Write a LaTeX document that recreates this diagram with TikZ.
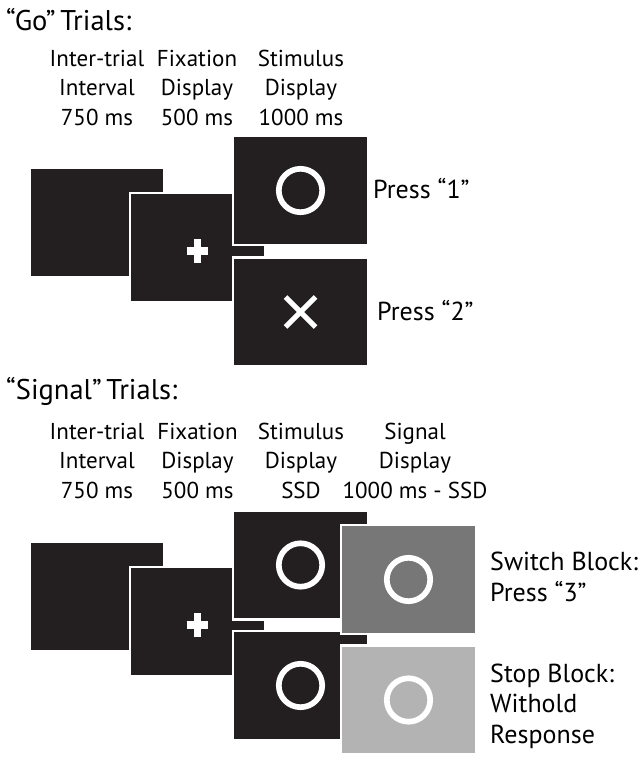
\documentclass[tikz,border=0pt]{standalone}
\usepackage{fontspec}
\setmainfont{PT Sans}
\usetikzlibrary{positioning}

\definecolor{scr}{HTML}{231F20}
\definecolor{switchgray}{HTML}{777777}
\definecolor{stopgray}{HTML}{B3B3B3}

\tikzset{
    screen/.style={rectangle, fill=scr, draw=white, line width=2.5pt,
        minimum width=135pt, minimum height=109pt, inner sep=0pt},
    ring/.style={draw=white, line width=5.7pt},
    glyph/.style={draw=white, line width=5pt},
    head/.style={align=center, anchor=base, inner sep=0pt,
        font=\fontsize{23}{29.5}\selectfont},
    trialtitle/.style={anchor=base west, inner sep=0pt,
        font=\fontsize{28.5}{32}\selectfont},
    resp/.style={align=left, anchor=base west, inner sep=0pt,
        font=\fontsize{26}{30.5}\selectfont}
}

\begin{document}
\begin{tikzpicture}[x=1pt, y=1pt, on grid]
    \useasboundingbox (0,0) rectangle (644,-762);

    % go trials
    \node[trialtitle] (gotitle) at (6,-31) {“Go”\,Trials:};
    \node[head] (goitilab) at (97,-125.5) {Inter-trial\\Interval\\750 ms};
    \node[head] (gofixlab) at (197,-125.5) {Fixation\\Display\\500 ms};
    \node[head] (gostimlab) at (301,-125.5) {Stimulus\\Display\\1000 ms};

    \node[screen] (goiti) at (97,-222.5) {};
    \node[screen] (gofix) [below right=25pt and 100.5pt of goiti] {};
    \node[screen] (gostim) [above right=57pt and 103pt of gofix] {};
    \node[screen] (gostimx) [below=121.5pt of gostim] {};

    \draw[glyph, line width=7.5pt] ([yshift=-3.5pt]gofix.center) +(-10.8,0) -- +(10.8,0)
        +(0,-12.2) -- +(0,12.2);
    \draw[ring] (gostim.center) circle (21.7pt);
    \draw[glyph] (gostimx.center) +(-15,-15) -- +(15,15) +(-15,15) -- +(15,-15);

    \node[resp] (press1) at (373,-198) {Press “1”};
    \node[resp] (press2) at (377,-320) {Press “2”};

    % signal trials
    \node[trialtitle] (sigtitle) at (6,-399) {“Signal”\,Trials:};
    \node[head] (sigitilab) at (97,-498) {Inter-trial\\Interval\\750 ms};
    \node[head] (sigfixlab) at (197.5,-498) {Fixation\\Display\\500 ms};
    \node[head] (sigstimlab) at (301,-498) {Stimulus\\Display\\SSD};
    \node[head] (signallab) at (415,-498) {Signal\\Display\\1000 ms - SSD};

    \node[screen] (sigiti) at (97,-596.5) {};
    \node[screen] (sigfix) [below right=25pt and 100.5pt of sigiti] {};
    \node[screen] (sigstim) [above right=56.5pt and 103pt of sigfix] {};
    \node[screen] (sigstimb) [below=120.5pt of sigstim] {};
    \node[screen, fill=switchgray] (switchsig) [below right=14.5pt and 108pt of sigstim] {};
    \node[screen, fill=stopgray] (stopsig) [below=120.5pt of switchsig] {};

    \draw[glyph, line width=7.5pt] ([yshift=-3.5pt]sigfix.center) +(-10.8,0) -- +(10.8,0)
        +(0,-12.2) -- +(0,12.2);
    \draw[ring] (sigstim.center) circle (21.7pt);
    \draw[ring] (sigstimb.center) circle (21.7pt);
    \draw[ring] (switchsig.center) circle (21.7pt);
    \draw[ring] (stopsig.center) circle (21.7pt);

    \node[resp] (switchlab) at (490,-601) {Switch Block:\\Press “3”};
    \node[resp] (stoplab) at (490,-743) {Stop Block:\\Withold\\Response};
\end{tikzpicture}
\end{document}
